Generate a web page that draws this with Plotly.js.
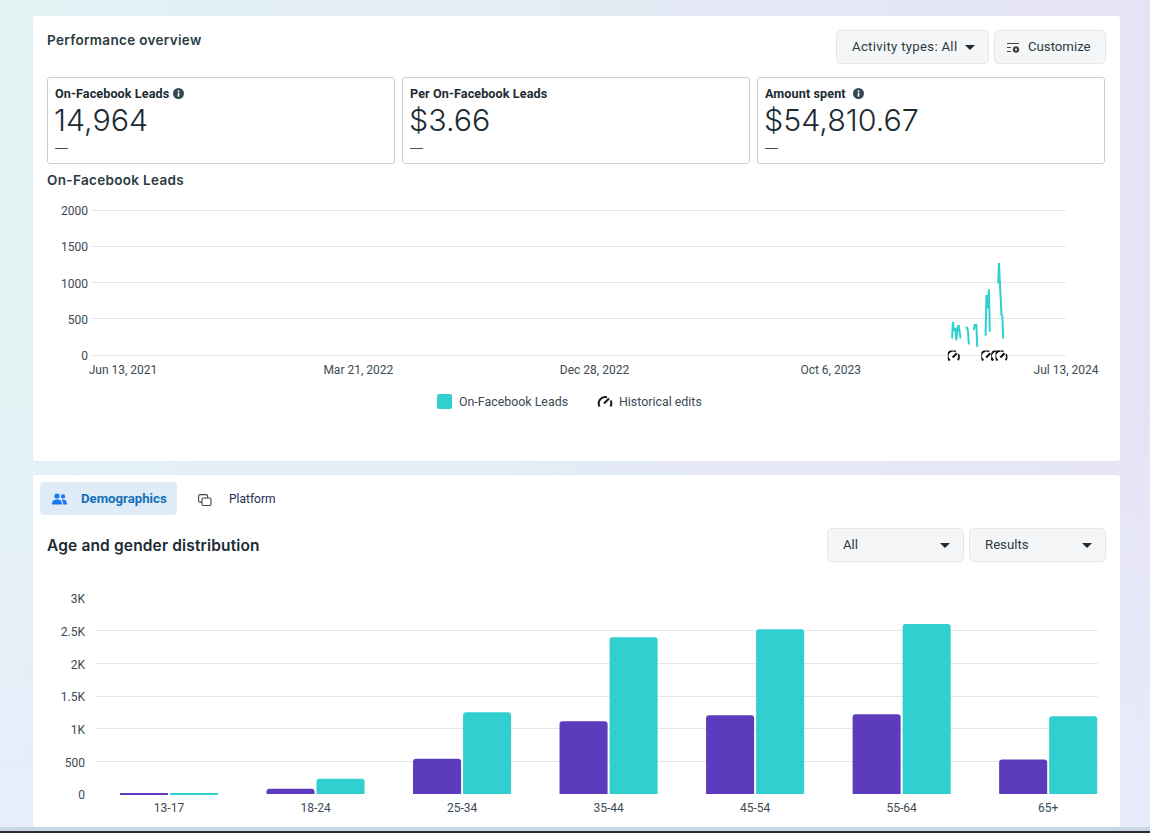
<!DOCTYPE html>
<html><head><meta charset="utf-8">
<script src="https://cdn.plot.ly/plotly-3.0.1.min.js"></script>
<style>
html,body{margin:0;padding:0;width:1150px;height:833px;overflow:hidden}
body{position:relative;font-family:Inter,Roboto,sans-serif;color:#1c2b33;
background:linear-gradient(180deg,rgba(232,236,251,0) 45%,rgba(232,236,251,.9) 100%),linear-gradient(90deg,#e2f3f4 0%,#e5e3f5 100%)}
.a{position:absolute;white-space:nowrap}
.card{position:absolute;left:33px;width:1087px;background:#fff;border-radius:3px}
.box{position:absolute;top:77px;height:85px;width:346px;border:1px solid #ccd0d5;border-radius:3px;background:#fff}
.btn{position:absolute;background:#f5f6f7;border:1px solid #e4e6eb;border-radius:5px;box-sizing:border-box;height:34px;font:13.2px/32px Roboto,sans-serif;color:#2b3a42}
.lab{font:700 12.6px/14px Roboto,sans-serif;letter-spacing:.1px;color:#1c2b33}
.val{font:300 30.4px/36px Inter,sans-serif;color:#1c2b33}
.head{font:600 13.5px/16px Inter,sans-serif;letter-spacing:.33px;color:#2b3a42}
.leg{font:12.4px/15px Roboto,sans-serif;color:#3b4a54}
.tri{position:absolute;width:0;height:0;border-left:5px solid transparent;border-right:5px solid transparent;border-top:5px solid #1c2b33}
.plot{position:absolute}
</style></head><body>
<div class="card" style="top:16px;height:445px"></div>
<div class="card" style="top:475px;height:352px"></div>
<div class="a" style="left:0;top:827px;width:1150px;height:4px;background:#c9d6e4"></div>
<div class="a" style="left:0;top:831px;width:1150px;height:2px;background:#2a2a30"></div>

<div class="a head" style="left:47px;top:32px">Performance overview</div>
<div class="btn" style="left:836px;top:30px;width:153px;padding-left:15px;letter-spacing:.3px">Activity types: All<div class="tri" style="left:128px;top:14px"></div></div>
<div class="btn" style="left:994px;top:30px;width:112px;padding-left:33px">Customize
<svg class="a" style="left:12px;top:11px" width="14" height="12" viewBox="0 0 14 12"><path d="M0 1.5h12M0 5.5h4M0 9.5h4" stroke="#444" stroke-width="1.2"/><circle cx="9" cy="7.5" r="3.2" fill="#444"/><circle cx="9" cy="7.5" r="1" fill="#fff"/></svg></div>

<div class="box" style="left:47px"></div><div class="box" style="left:402px"></div><div class="box" style="left:757px"></div>
<div class="a lab" style="left:55px;top:87px">On-Facebook Leads</div>
<svg class="a" style="left:173px;top:88px" width="11" height="11" viewBox="0 0 11 11"><circle cx="5.5" cy="5.5" r="5.5" fill="#344854"/><rect x="4.7" y="4.6" width="1.6" height="4" fill="#fff"/><rect x="4.7" y="2.4" width="1.6" height="1.5" fill="#fff"/></svg>
<div class="a val" style="left:54px;top:102px">14,964</div>
<div class="a" style="left:55px;top:140px;font:300 13px/16px Inter,sans-serif">—</div>
<div class="a lab" style="left:410px;top:87px">Per On-Facebook Leads</div>
<div class="a val" style="left:409px;top:102px">$3.66</div>
<div class="a" style="left:410px;top:140px;font:300 13px/16px Inter,sans-serif">—</div>
<div class="a lab" style="left:765px;top:87px">Amount spent</div>
<svg class="a" style="left:853px;top:88px" width="11" height="11" viewBox="0 0 11 11"><circle cx="5.5" cy="5.5" r="5.5" fill="#344854"/><rect x="4.7" y="4.6" width="1.6" height="4" fill="#fff"/><rect x="4.7" y="2.4" width="1.6" height="1.5" fill="#fff"/></svg>
<div class="a val" style="left:764px;top:102px">$54,810.67</div>
<div class="a" style="left:765px;top:140px;font:300 13px/16px Inter,sans-serif">—</div>
<div class="a head" style="left:47px;top:172px">On-Facebook Leads</div>

<div id="lineChart" class="plot" style="left:33px;top:195px;width:1087px;height:195px"></div>

<div class="a" style="left:437px;top:394px;width:15px;height:15px;background:#31cfd0;border-radius:2px"></div>
<div class="a leg" style="left:459px;top:394px">On-Facebook Leads</div>
<svg class="a" style="left:597px;top:395px" width="16" height="13" viewBox="0 0 16 13"><path d="M2.5 11.5A6.5 6.5 0 0 1 10 2.2" fill="none" stroke="#1c1c1c" stroke-width="2"/><path d="M13.6 5.5A6.5 6.5 0 0 1 13.5 11.5" fill="none" stroke="#1c1c1c" stroke-width="2"/><path d="M7 8.5L12 3.5" stroke="#1c1c1c" stroke-width="2.2"/></svg>
<div class="a leg" style="left:619px;top:394px">Historical edits</div>

<div class="a" style="left:40px;top:482px;width:137px;height:33px;background:#dfebf7;border-radius:4px"></div>
<svg class="a" style="left:52px;top:493px" width="15" height="12" viewBox="0 0 15 12"><circle cx="5" cy="3" r="2.6" fill="#1877f2"/><circle cx="11" cy="3.4" r="2.1" fill="#1877f2"/><path d="M0 11.5C0 7.5 2.5 6.6 5 6.6S10 7.5 10 11.5ZM11 11.5C11 9 10.5 7.8 9.6 7 10 6.7 10.5 6.6 11 6.6 13 6.6 15 7.6 15 11.5Z" fill="#1877f2"/></svg>
<div class="a" style="left:81px;top:491px;font:700 13.2px/15px Roboto,sans-serif;color:#1470b8">Demographics</div>
<svg class="a" style="left:198px;top:494px" width="14" height="12" viewBox="0 0 14 12"><rect x=".6" y=".6" width="9" height="7.5" rx="1.5" fill="#fff" stroke="#444" stroke-width="1.1"/><rect x="4" y="4" width="9" height="7.5" rx="1.5" fill="#fff" stroke="#444" stroke-width="1.1"/></svg>
<div class="a" style="left:229px;top:492px;font:12px/15px Roboto,sans-serif;color:#1c2b50">Platform</div>
<div class="a" style="left:47px;top:536px;font:600 15.5px/19px Inter,sans-serif;letter-spacing:.15px;color:#1c2b33">Age and gender distribution</div>
<div class="btn" style="left:827px;top:528px;width:137px;padding-left:15px">All<div class="tri" style="left:112px;top:14px"></div></div>
<div class="btn" style="left:969px;top:528px;width:137px;padding-left:15px">Results<div class="tri" style="left:112px;top:14px"></div></div>

<div id="barChart" class="plot" style="left:33px;top:580px;width:1087px;height:240px"></div>

<script>
var leadDates = ["2024-02-28","2024-02-29","2024-03-01","2024-03-02","2024-03-03","2024-03-04","2024-03-05","2024-03-06","2024-03-07","2024-03-08","2024-03-09","2024-03-10",
"2024-03-15","2024-03-16","2024-03-17","2024-03-18","2024-03-19","2024-03-20",
"2024-03-25","2024-03-26","2024-03-27","2024-03-28","2024-03-29","2024-03-30",
"2024-04-08","2024-04-09","2024-04-10","2024-04-11","2024-04-12","2024-04-13","2024-04-14",
"2024-04-23","2024-04-24","2024-04-25","2024-04-26","2024-04-27","2024-04-28","2024-04-29"];
var leadValues = [229,459,344,349,358,206,344,399,399,321,229,null,
381,381,375,321,147,null,
344,413,413,413,115,null,
266,826,642,757,904,321,null,
986,1270,1009,757,550,537,229];
var editDates = ["2024-03-01","2024-04-10","2024-04-22","2024-04-27"];
var lineTickVals = ["2021-06-13","2022-03-21","2022-12-28","2023-10-06","2024-07-13"];
var lineTickText = ["Jun 13, 2021","Mar 21, 2022","Dec 28, 2022","Oct 6, 2023","Jul 13, 2024"];
var leadTicks = [0,500,1000,1500,2000];
var ageGroups = ["13-17","18-24","25-34","35-44","45-54","55-64","65+"];
var purpleValues = [4,80,540,1115,1205,1220,530];
var tealValues = [4,235,1250,2400,2520,2600,1190];
var barTickVals = [0,500,1000,1500,2000,2500,3000];
var barTickText = ["0","500","1K","1.5K","2K","2.5K","3K"];

var TEAL="#31cfd0", PURPLE="#5d3bbd", GRID="#e4e6eb", TICK="#3b4a54";
var gauge = "data:image/svg+xml;utf8," + encodeURIComponent('<svg xmlns="http://www.w3.org/2000/svg" width="12" height="11" viewBox="0 0 14 13"><circle cx="7" cy="6.5" r="6.4" fill="white"/><path d="M2.4 11.6A6 6 0 0 1 9.4 1.2" fill="none" stroke="#111" stroke-width="2.2"/><path d="M12.4 4.4A6 6 0 0 1 11.8 11.4" fill="none" stroke="#111" stroke-width="2.2"/><path d="M5.6 8.2L10.6 3.2" stroke="#111" stroke-width="2.4"/></svg>');
var tickFont={family:"Roboto, sans-serif",size:12,color:TICK};
var dayMs=86400000;

Plotly.newPlot("lineChart",[{
  type:"scatter",mode:"lines",name:"On-Facebook Leads",x:leadDates,y:leadValues,
  connectgaps:false,line:{color:TEAL,width:2},hoverinfo:"x+y"
}],{
  paper_bgcolor:"rgba(0,0,0,0)",plot_bgcolor:"rgba(0,0,0,0)",showlegend:false,
  margin:{l:59,r:54,t:14,b:27},
  xaxis:{type:"date",range:["2021-05-07","2024-07-13"],tickmode:"array",tickvals:lineTickVals,ticktext:lineTickText,showgrid:false,zeroline:false,showline:false,ticks:"",tickfont:tickFont,tickangle:0,ticklabelstandoff:-2},
  yaxis:{range:[-110,2014],tickmode:"array",tickvals:leadTicks,showgrid:true,gridcolor:GRID,gridwidth:1,zeroline:false,showline:false,ticks:"",tickfont:tickFont,ticklabelstandoff:3,ticklabelshift:1},
  images:editDates.map(function(d){return {source:gauge,xref:"x",yref:"y",x:d,y:-14,sizex:12*1.195*dayMs,sizey:152,xanchor:"center",yanchor:"middle",sizing:"contain",layer:"above"};})
},{displayModeBar:false,responsive:false});

Plotly.newPlot("barChart",[
 {type:"bar",name:"Men",x:ageGroups.map(function(_,i){return i;}),y:purpleValues,marker:{color:PURPLE}},
 {type:"bar",name:"Women",x:ageGroups.map(function(_,i){return i;}),y:tealValues,marker:{color:TEAL}}
],{
  paper_bgcolor:"rgba(0,0,0,0)",plot_bgcolor:"rgba(0,0,0,0)",showlegend:false,
  barmode:"group",bargap:0.317,bargroupgap:0.04,barcornerradius:3,
  margin:{l:62,r:22,t:17,b:25},
  xaxis:{type:"linear",range:[-0.505,6.34],tickmode:"array",tickvals:ageGroups.map(function(_,i){return i;}),ticktext:ageGroups,showgrid:false,zeroline:false,showline:false,ticks:"",tickfont:tickFont,ticklabelstandoff:4},
  yaxis:{range:[-15,3015],tickmode:"array",tickvals:barTickVals,ticktext:barTickText,showgrid:true,gridcolor:GRID,zeroline:false,showline:false,ticks:"",tickfont:tickFont,ticklabelstandoff:9,ticklabelshift:1}
},{displayModeBar:false,responsive:false});
</script>
</body></html>
